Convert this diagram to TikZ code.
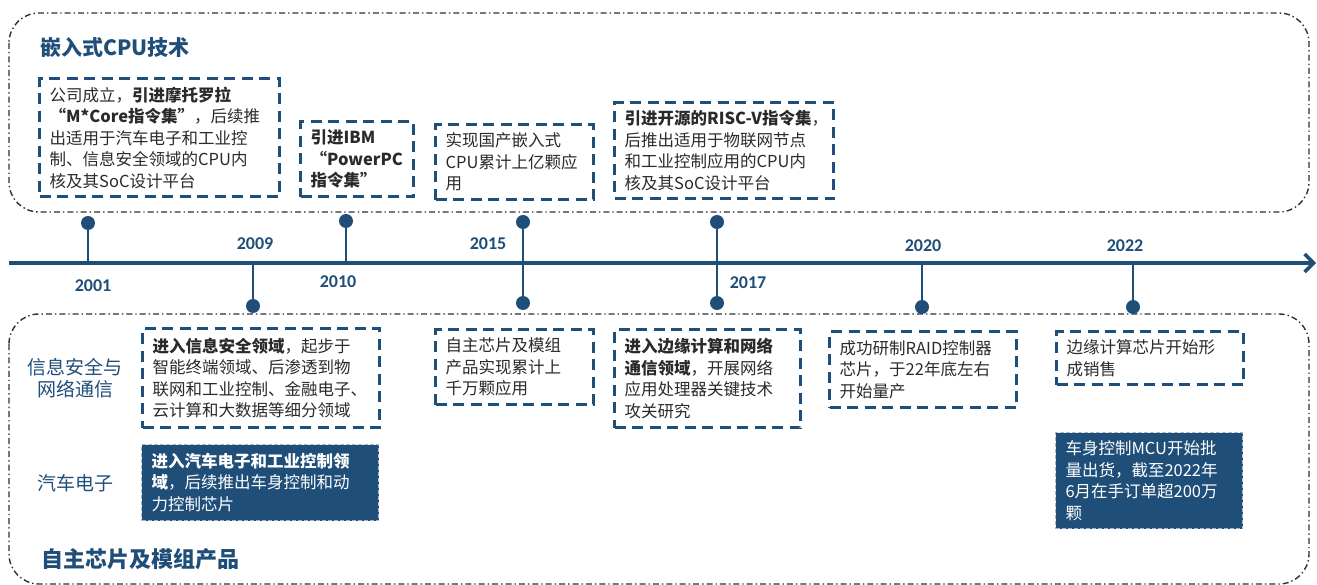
\documentclass[tikz,border=0pt]{standalone}
\usepackage{fontspec}
\setmainfont{Noto Sans CJK SC}
\newfontfamily\yearfont{Carlito}
\usetikzlibrary{arrows.meta}
\definecolor{dblue}{HTML}{1F4E79}
\definecolor{tgray}{HTML}{2A2A2A}
\definecolor{fgray}{HTML}{303030}
\begin{document}
\begin{tikzpicture}[x=1pt,y=-1pt,
  frame/.style={draw=fgray, line width=1.4pt, dash pattern=on 6pt off 3pt on 1.4pt off 3pt, rounded corners=30pt},
  dbox/.style={draw=dblue, line width=3.4pt, dash pattern=on 11pt off 6.5pt, inner xsep=10pt, inner ysep=0pt, align=left, anchor=north west, text=tgray, font=\fontsize{16.5}{21.5}\selectfont},
  fbox/.style={dbox, fill=dblue, draw=dblue!40!white, line width=1pt, dash pattern=on 4pt off 2pt, text=white},
  stem/.style={draw=dblue, line width=2pt},
  dot/.style={circle, fill=dblue, inner sep=0pt, minimum size=14pt},
  year/.style={text=dblue, font=\yearfont\bfseries\fontsize{18}{18}\selectfont},
  lab/.style={text=dblue, font=\fontsize{19}{22}\selectfont, align=center},
  title/.style={text=dblue, anchor=west},
]
\useasboundingbox (0,0) rectangle (1317,585);

% frames
\draw[frame] (9,13) rectangle (1309,212);
\draw[frame] (9,314) rectangle (1309,584);

% titles
\node[title, font=\bfseries\fontsize{21}{24}\selectfont] (t1) at (37,47) {嵌入式CPU技术};
\node[title, font=\bfseries\fontsize{22}{24}\selectfont] (t2) at (38,559) {自主芯片及模组产品};
\node[lab] (l1) at (75,378) {信息安全与\\网络通信};
\node[lab] (l2) at (75,483) {汽车电子};

% timeline
\coordinate (tl0) at (9,263);
\coordinate (tl1) at (1316,263);
\draw[dblue, line width=4pt, -{Straight Barb[length=9pt,width=18pt,line width=3.5pt]}] (tl0) -- (tl1);

% stems and dots
\node[dot] (d01) at (88,223) {};
\coordinate (a01) at (88,263);
\draw[stem] (d01) -- (a01);
\node[dot] (d09) at (253,306) {};
\coordinate (a09) at (253,263);
\draw[stem] (d09) -- (a09);
\node[dot] (d10) at (346,221) {};
\coordinate (a10) at (346,263);
\draw[stem] (d10) -- (a10);
\node[dot] (d15u) at (523,222) {};
\node[dot] (d15d) at (523,303) {};
\draw[stem] (d15u) -- (d15d);
\node[dot] (d17u) at (717,222) {};
\node[dot] (d17d) at (717,303) {};
\draw[stem] (d17u) -- (d17d);
\node[dot] (d20) at (922,307) {};
\coordinate (a20) at (922,263);
\draw[stem] (d20) -- (a20);
\node[dot] (d22) at (1133,307) {};
\coordinate (a22) at (1133,263);
\draw[stem] (d22) -- (a22);

% years
\node[year] (y01) at (93,286) {2001};
\node[year] (y09) at (255,244) {2009};
\node[year] (y10) at (338,282) {2010};
\node[year] (y15) at (488,244) {2015};
\node[year] (y17) at (748,283) {2017};
\node[year] (y20) at (923,246) {2020};
\node[year] (y22) at (1125,246) {2022};

% upper boxes
\node[dbox, minimum width=240pt, minimum height=118pt, text width=220pt] (b1) at (38,77)
  {公司成立，\textbf{引进摩托罗拉}\\\textbf{“M*Core指令集”}，后续推\\出适用于汽车电子和工业控\\制、信息安全领域的CPU内\\核及其SoC设计平台};
\node[dbox, minimum width=113pt, minimum height=75pt, text width=93pt] (b2) at (299,120)
  {\textbf{引进IBM}\\\textbf{“PowerPC}\\\textbf{指令集”}};
\node[dbox, minimum width=158pt, minimum height=75pt, text width=138pt] (b3) at (434,123)
  {实现国产嵌入式\\CPU累计上亿颗应\\用};
\node[dbox, minimum width=219pt, minimum height=96pt, text width=199pt] (b4) at (613,101)
  {\textbf{引进开源的\mbox{RISC-V}指令集}，\\后推出适用于物联网节点\\和工业控制应用的CPU内\\核及其SoC设计平台};

% lower boxes
\node[dbox, minimum width=237pt, minimum height=99pt, text width=217pt] (b5) at (141,327)
  {\textbf{进入信息安全领域}，起步于\\智能终端领域、后渗透到物\\联网和工业控制、金融电子、\\云计算和大数据等细分领域};
\node[fbox, minimum width=237pt, minimum height=76pt, text width=217pt] (b6) at (141,444)
  {\textbf{进入汽车电子和工业控制领}\\\textbf{域}，后续推出车身控制和动\\力控制芯片};
\node[dbox, minimum width=158pt, minimum height=75pt, text width=138pt] (b7) at (434,328)
  {自主芯片及模组\\产品实现累计上\\千万颗应用};
\node[dbox, minimum width=186pt, minimum height=98pt, text width=166pt] (b8) at (613,328)
  {\textbf{进入边缘计算和网络}\\\textbf{通信领域}，开展网络\\应用处理器关键技术\\攻关研究};
\node[dbox, minimum width=187pt, minimum height=76pt, text width=167pt] (b9) at (828,330)
  {成功研制RAID控制器\\芯片，于22年底左右\\开始量产};
\node[dbox, minimum width=187pt, minimum height=53pt, text width=167pt] (b10) at (1055,330)
  {边缘计算芯片开始形\\成销售};
\node[fbox, minimum width=187pt, minimum height=96pt, text width=167pt] (b11) at (1055,432)
  {车身控制MCU开始批\\量出货，截至2022年\\6月在手订单超200万\\颗};
\end{tikzpicture}
\end{document}
